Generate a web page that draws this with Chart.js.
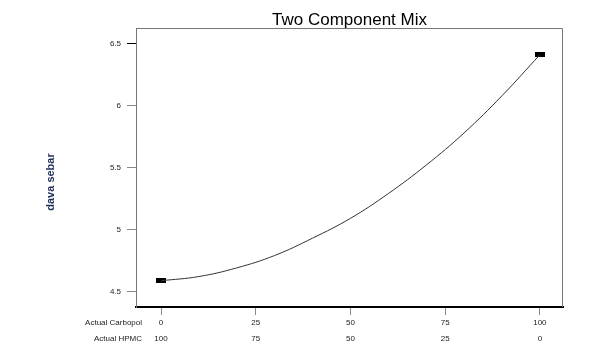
<!DOCTYPE html>
<html>
<head>
<meta charset="utf-8">
<style>
  html, body { margin: 0; padding: 0; background: #fff; }
  #c { display: block; }
</style>
<script src="https://cdn.jsdelivr.net/npm/chart.js@4.4.0/dist/chart.umd.min.js"></script>
</head>
<body>
<canvas id="c" width="591" height="355"></canvas>
<script>
// ---- data ----
const curveX = [0, 10, 20, 30, 40, 50, 60, 70, 80, 90, 100];
const curveY = [4.586, 4.62, 4.69, 4.79, 4.93, 5.09, 5.29, 5.52, 5.78, 6.08, 6.411];
const designX = [0, 100];
const designY = [4.586, 6.411];
const carbopolTicks = [0, 25, 50, 75, 100];
const hpmcTicks = [100, 75, 50, 25, 0];
const yTicks = [4.5, 5, 5.5, 6, 6.5];
const titleText = 'Two Component Mix';
const yTitle = 'dava sebar';
const rowLabels = ['Actual Carbopol', 'Actual HPMC'];

const FONT = '"Liberation Sans", Arial, sans-serif';

// rectangular marker
const marker = document.createElement('canvas');
marker.width = 10; marker.height = 5;
(function () {
  const m = marker.getContext('2d');
  m.fillStyle = '#000';
  m.fillRect(0, 0, 10, 5);
})();

const curveData = curveX.map((x, i) => ({ x: x, y: curveY[i] }));
const designData = designX.map((x, i) => ({ x: x, y: designY[i] }));

const decor = {
  id: 'decor',
  afterDraw(chart) {
    const ctx = chart.ctx;
    const a = chart.chartArea;
    ctx.save();
    // frame (top, right)
    ctx.strokeStyle = '#777';
    ctx.lineWidth = 1;
    ctx.beginPath();
    ctx.moveTo(a.left + 0.5, a.bottom);
    ctx.lineTo(a.left + 0.5, a.top + 0.5);
    ctx.lineTo(a.right - 0.5, a.top + 0.5);
    ctx.lineTo(a.right - 0.5, a.bottom);
    ctx.stroke();
    // title
    ctx.fillStyle = '#000';
    ctx.font = '17px ' + FONT;
    ctx.textAlign = 'center';
    ctx.textBaseline = 'alphabetic';
    ctx.fillText(titleText, (a.left + a.right) / 2, 25);
    // row labels
    ctx.font = '8px ' + FONT;
    ctx.fillStyle = '#222';
    ctx.textAlign = 'right';
    ctx.textBaseline = 'middle';
    ctx.fillText(rowLabels[0], 142, 323);
    ctx.fillText(rowLabels[1], 142, 339);
    // y title
    ctx.save();
    ctx.translate(51, 182);
    ctx.rotate(-Math.PI / 2);
    ctx.font = 'bold 11px ' + FONT;
    ctx.fillStyle = '#1f2d5a';
    ctx.textAlign = 'center';
    ctx.textBaseline = 'middle';
    ctx.fillText(yTitle, 0, 0);
    ctx.restore();
    ctx.restore();
  }
};

new Chart(document.getElementById('c'), {
  type: 'scatter',
  data: {
    datasets: [
      {
        data: curveData,
        showLine: true,
        borderColor: '#333',
        borderWidth: 1,
        pointRadius: 0,
        tension: 0.4,
        fill: false
      },
      {
        data: designData,
        pointStyle: marker,
        pointRadius: 5,
        showLine: false
      }
    ]
  },
  options: {
    responsive: false,
    animation: false,
    events: [],
    layout: { padding: { left: 0, top: 28, right: 28, bottom: 0 } },
    plugins: {
      legend: { display: false },
      title: { display: false },
      tooltip: { enabled: false }
    },
    scales: {
      x: {
        type: 'linear',
        min: -6.6,
        max: 106.1,
        afterBuildTicks(scale) { scale.ticks = carbopolTicks.map(v => ({ value: v })); },
        afterFit(scale) { scale.height = 48; },
        grid: { drawOnChartArea: false, tickLength: 8, color: '#888', lineWidth: 1 },
        border: { display: true, color: '#000', width: 2 },
        ticks: {
          font: { family: FONT, size: 8, lineHeight: 2 },
          color: '#222',
          padding: 0,
          maxRotation: 0,
          autoSkip: false,
          callback(value, index) {
            const i = carbopolTicks.indexOf(value);
            return [String(carbopolTicks[i]), String(hpmcTicks[i])];
          }
        }
      },
      y: {
        type: 'linear',
        min: 4.374,
        max: 6.627,
        afterBuildTicks(scale) { scale.ticks = yTicks.map(v => ({ value: v })); },
        afterFit(scale) { scale.width = 136; },
        grid: {
          drawOnChartArea: false,
          tickLength: 9,
          color: (c) => (c.tick && c.tick.value === 6.5 ? '#000' : '#888'),
          lineWidth: 1
        },
        border: { display: true, color: '#666', width: 1 },
        ticks: {
          font: { family: FONT, size: 8 },
          color: '#222',
          padding: 6,
          autoSkip: false,
          callback(value) { return String(value); }
        }
      }
    }
  },
  plugins: [decor]
});
</script>
</body>
</html>
